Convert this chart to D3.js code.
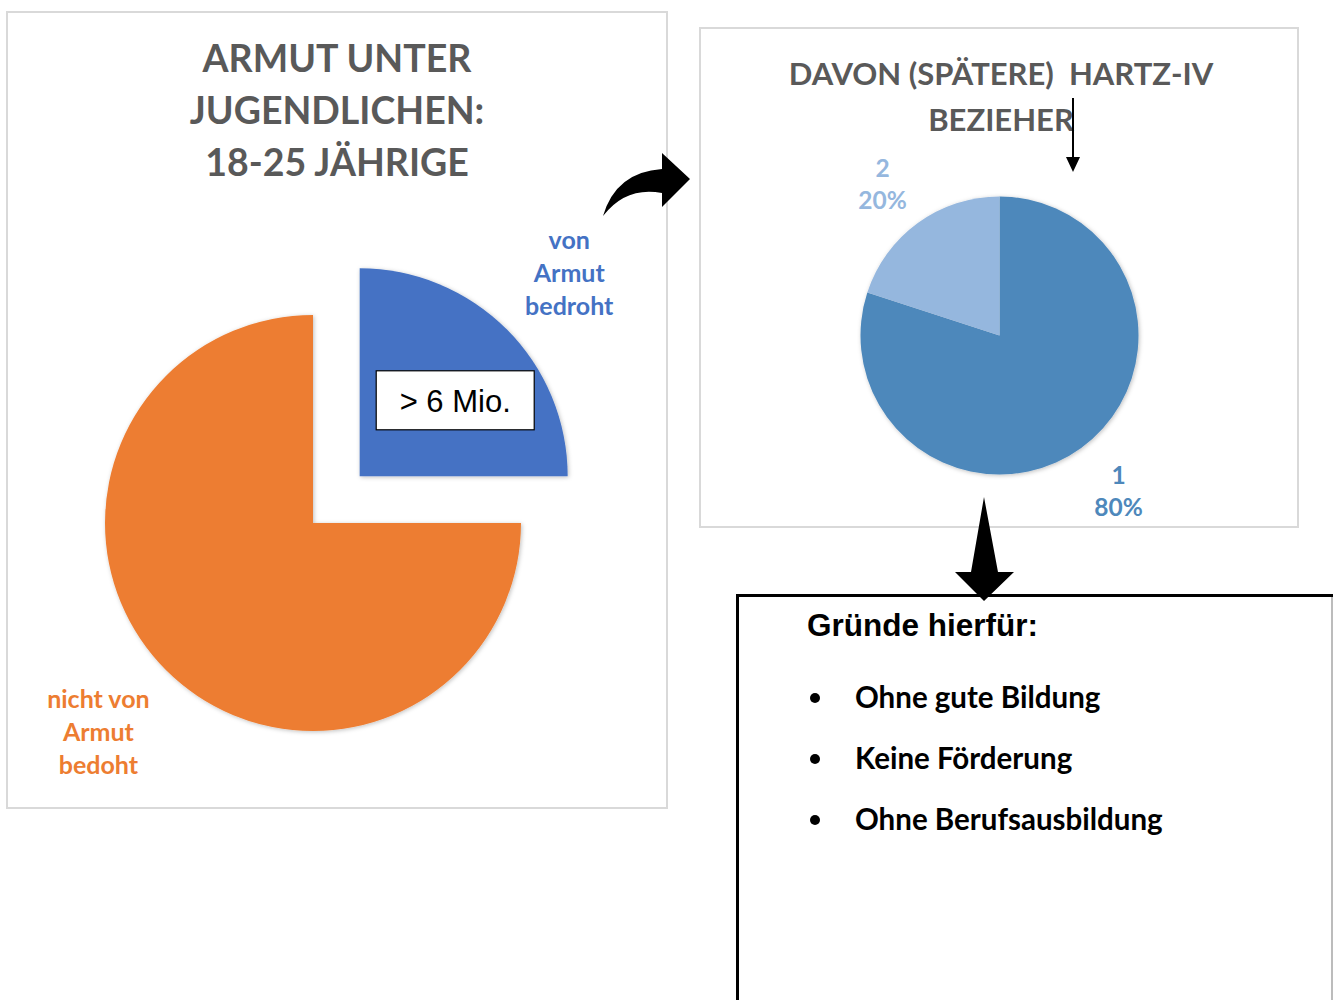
<!DOCTYPE html>
<html lang="de">
<head>
    <meta charset="UTF-8">
    <title>Armut unter Jugendlichen</title>
    <script src="https://d3js.org/d3.v7.min.js"></script>
    <style>
        body {
            margin: 0;
            padding: 0;
            background: #fff;
        }
        .title {
            font-family: Lato, "Open Sans", sans-serif;
            font-weight: bold;
            fill: #595959;
            white-space: pre;
        }
        .label {
            font-family: Lato, "Open Sans", sans-serif;
            font-weight: bold;
        }
    </style>
</head>
<body>
    <svg id="chart" width="1333" height="1000"></svg>

    <script>
        // Data
        const mainLabels = [["von", "Armut", "bedroht"], ["nicht von", "Armut", "bedoht"]];
        const mainValues = [25, 75];
        const mainColors = ["#4472C4", "#ED7D31"];
        const mainTitle = ["ARMUT UNTER", "JUGENDLICHEN:", "18-25 JÄHRIGE"];
        const boxText = "> 6 Mio.";

        const subCategories = ["1", "2"];
        const subValues = [80, 20];
        const subColors = ["#4E88BB", "#95B7DE"];
        const subTitle = ["DAVON (SPÄTERE)  HARTZ-IV", "BEZIEHER"];

        const reasonsTitle = "Gründe hierfür:";
        const reasons = ["Ohne gute Bildung", "Keine Förderung", "Ohne Berufsausbildung"];

        const svg = d3.select("#chart");

        // shadow filter for the pies
        const defs = svg.append("defs");
        defs.append("filter")
            .attr("id", "shadow")
            .attr("x", "-10%").attr("y", "-10%")
            .attr("width", "120%").attr("height", "120%")
            .append("feDropShadow")
            .attr("dx", 1).attr("dy", 1)
            .attr("stdDeviation", 2)
            .attr("flood-color", "#000")
            .attr("flood-opacity", 0.25);

        // ---------- Left panel ----------
        svg.append("rect")
            .attr("x", 7).attr("y", 12)
            .attr("width", 660).attr("height", 796)
            .attr("fill", "#fff")
            .attr("stroke", "#d9d9d9")
            .attr("stroke-width", 2);

        svg.append("text")
            .attr("class", "title")
            .attr("text-anchor", "middle")
            .style("font-size", "37.5px")
            .selectAll("tspan")
            .data(mainTitle)
            .join("tspan")
            .attr("x", 337)
            .attr("y", (d, i) => 72 + i * 52)
            .text(d => d);

        const mainRadius = 208;
        const mainCenter = [313, 523];
        const explode = 66;

        const mainPie = d3.pie().sort(null).value(d => d)(mainValues);
        const mainArc = d3.arc().innerRadius(0).outerRadius(mainRadius);
        const mainLabelArc = d3.arc().innerRadius(295).outerRadius(295);
        // small nudges so labels sit like the original ones
        const mainNudge = [[1, 5], [-6, 0]];

        const mainG = svg.append("g")
            .attr("transform", `translate(${mainCenter[0]},${mainCenter[1]})`);

        const slices = mainG.selectAll("g.slice")
            .data(mainPie)
            .join("g")
            .attr("class", "slice")
            .attr("transform", (d, i) => {
                if (i !== 0) return null;
                const a = (d.startAngle + d.endAngle) / 2;
                return `translate(${explode * Math.sin(a)},${-explode * Math.cos(a)})`;
            });

        slices.append("path")
            .attr("d", mainArc)
            .attr("fill", (d, i) => mainColors[i])
            .attr("filter", "url(#shadow)");

        slices.append("text")
            .attr("class", "label")
            .attr("text-anchor", "middle")
            .attr("fill", (d, i) => mainColors[i])
            .style("font-size", "25px")
            .each(function(d, i) {
                const c = mainLabelArc.centroid(d);
                const lines = mainLabels[i];
                d3.select(this).selectAll("tspan")
                    .data(lines)
                    .join("tspan")
                    .attr("x", c[0] + mainNudge[i][0])
                    .attr("y", (l, j) => c[1] + mainNudge[i][1] + (j - (lines.length - 1) / 2) * 33 + 9)
                    .text(l => l);
            });

        // value box inside the blue slice
        const blue = slices.filter((d, i) => i === 0);
        const boxC = mainArc.centroid(mainPie[0]);
        blue.append("rect")
            .attr("x", boxC[0] - 79 + 22)
            .attr("y", boxC[1] - 30 - 2)
            .attr("width", 158)
            .attr("height", 59)
            .attr("fill", "#fff")
            .attr("stroke", "#000")
            .attr("stroke-width", 1.2);
        blue.append("text")
            .attr("x", boxC[0] + 22)
            .attr("y", boxC[1] + 9)
            .attr("text-anchor", "middle")
            .style("font-family", "'Liberation Sans', Arial, sans-serif")
            .style("font-size", "31px")
            .attr("fill", "#000")
            .text(boxText);

        // ---------- curved arrow ----------
        svg.append("path")
            .attr("d", "M603,216 Q616,172 662,169 L662,153 L690,179 L662,207 L662,193 Q626,186 603,216 Z")
            .attr("fill", "#000");

        // ---------- Right panel ----------
        svg.append("rect")
            .attr("x", 700).attr("y", 28)
            .attr("width", 598).attr("height", 499)
            .attr("fill", "#fff")
            .attr("stroke", "#d9d9d9")
            .attr("stroke-width", 2);

        svg.append("text")
            .attr("class", "title")
            .style("font-size", "31px")
            .attr("text-anchor", "middle")
            .selectAll("tspan")
            .data(subTitle)
            .join("tspan")
            .attr("x", 1001)
            .attr("y", (d, i) => 85 + i * 46)
            .text(d => d);

        const subRadius = 139;
        const subCenter = [999.5, 335.5];
        const subPie = d3.pie().sort(null).value(d => d)(subValues);
        const subArc = d3.arc().innerRadius(0).outerRadius(subRadius);
        const subLabelArc = d3.arc().innerRadius(194).outerRadius(194);
        const subNudge = [[5, -1], [-3, 5]];
        const total = d3.sum(subValues);

        const subG = svg.append("g")
            .attr("transform", `translate(${subCenter[0]},${subCenter[1]})`);

        subG.append("g")
            .attr("filter", "url(#shadow)")
            .selectAll("path")
            .data(subPie)
            .join("path")
            .attr("d", subArc)
            .attr("fill", (d, i) => subColors[i]);

        subG.selectAll("text")
            .data(subPie)
            .join("text")
            .attr("class", "label")
            .attr("text-anchor", "middle")
            .attr("fill", (d, i) => subColors[i])
            .style("font-size", "24.5px")
            .each(function(d, i) {
                const c = subLabelArc.centroid(d);
                const lines = [subCategories[i], Math.round(d.value / total * 100) + "%"];
                d3.select(this).selectAll("tspan")
                    .data(lines)
                    .join("tspan")
                    .attr("x", c[0] + subNudge[i][0])
                    .attr("y", (l, j) => c[1] + subNudge[i][1] + (j - 0.5) * 32 + 9)
                    .text(l => l);
            });

        // thin down arrow at the title
        svg.append("line")
            .attr("x1", 1073).attr("y1", 98)
            .attr("x2", 1073).attr("y2", 160)
            .attr("stroke", "#000")
            .attr("stroke-width", 2);
        svg.append("path")
            .attr("d", "M1066,157 L1080,157 L1073,172 Z")
            .attr("fill", "#000");

        // ---------- reasons box ----------
        svg.append("path")
            .attr("d", "M737.5,1002 L737.5,595.5 L1333,595.5")
            .attr("fill", "none")
            .attr("stroke", "#000")
            .attr("stroke-width", 3);
        svg.append("line")
            .attr("x1", 1332).attr("y1", 597)
            .attr("x2", 1332).attr("y2", 1000)
            .attr("stroke", "#a6a6a6")
            .attr("stroke-width", 1.5);

        // big down arrow
        svg.append("path")
            .attr("d", "M984,497 L998,572 L1014,572 L984,601 L955,572 L971,572 Z")
            .attr("fill", "#000");

        svg.append("text")
            .attr("x", 807)
            .attr("y", 636)
            .style("font-family", "'Liberation Sans', Arial, sans-serif")
            .style("font-weight", "bold")
            .style("font-size", "31.5px")
            .attr("fill", "#000")
            .text(reasonsTitle);

        const items = svg.append("g").selectAll("g")
            .data(reasons)
            .join("g")
            .attr("transform", (d, i) => `translate(0,${708 + i * 61})`);

        items.append("circle")
            .attr("cx", 815)
            .attr("cy", -10)
            .attr("r", 5)
            .attr("fill", "#000");

        items.append("text")
            .attr("class", "label")
            .attr("x", 855)
            .attr("y", 0)
            .style("font-size", "29.5px")
            .attr("fill", "#000")
            .text(d => d);
    </script>
</body>
</html>
